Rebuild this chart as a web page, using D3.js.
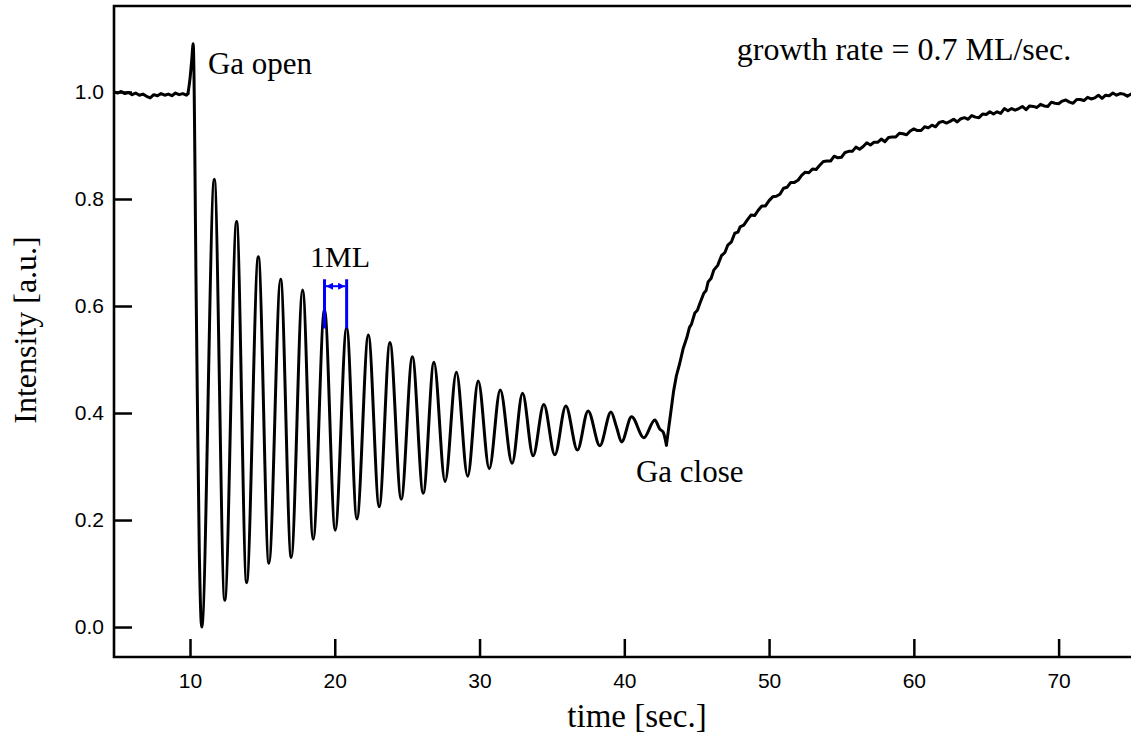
<!DOCTYPE html>
<html>
<head>
<meta charset="utf-8">
<script src="https://cdn.jsdelivr.net/npm/d3@7"></script>
<style>
  html, body { margin: 0; padding: 0; background: #fff; }
  svg { display: block; }
  .tick text { font-family: "Liberation Sans", Arial, sans-serif; font-size: 21px; fill: #000; }
  .serif { font-family: "Liberation Serif", "Times New Roman", serif; fill: #000; }
</style>
</head>
<body>
<svg id="chart" width="1131" height="738"></svg>
<script>
// RHEED specular intensity during GaAs growth (shutter open -> oscillations -> recovery)

// Before the Ga shutter opens
const baselineTime = [4.75, 5.00, 5.25, 5.50, 5.75, 6.00, 6.25, 6.50, 6.75, 7.00, 7.25,
  7.50, 7.75, 8.00, 8.25, 8.50, 8.75, 9.00, 9.25, 9.50, 9.75, 9.86];
const baselineIntensity = [1.000, 0.998, 1.001, 0.997, 0.999, 0.995, 0.998, 0.994, 0.996, 0.992, 0.989,
  0.995, 0.993, 0.997, 0.994, 0.996, 0.993, 0.998, 0.995, 0.997, 0.994, 0.997];

// Shutter transient and layer-by-layer oscillations
const growthTime = [9.86, 10.00, 10.12, 10.22, 10.43, 10.64, 10.81,
  11.68, 12.40, 13.22, 13.91, 14.72, 15.45, 16.26, 16.99, 17.78, 18.51,
  19.29, 20.03, 20.82, 21.53, 22.32, 23.07, 23.81, 24.59, 25.36, 26.11,
  26.85, 27.62, 28.40, 29.18, 29.91, 30.67, 31.43, 32.25, 32.97, 33.70,
  34.44, 35.20, 35.96, 36.76, 37.50, 38.31, 39.08, 39.46, 39.81, 40.50,
  41.35, 42.11, 42.45, 42.69, 42.91];
const growthIntensity = [0.997, 1.025, 1.060, 1.090, 0.611, 0.144, 0.000,
  0.837, 0.050, 0.758, 0.083, 0.692, 0.119, 0.650, 0.130, 0.630, 0.164,
  0.594, 0.181, 0.560, 0.202, 0.546, 0.225, 0.532, 0.239, 0.505, 0.250,
  0.495, 0.272, 0.476, 0.282, 0.460, 0.296, 0.443, 0.306, 0.437, 0.320,
  0.416, 0.322, 0.413, 0.331, 0.404, 0.339, 0.402, 0.374, 0.346, 0.393,
  0.354, 0.387, 0.370, 0.364, 0.340];

// After the Ga shutter closes
const recoveryTime = [42.91, 43.14, 43.40, 43.60, 43.83, 44.06, 44.32, 44.50, 44.64, 44.87,
  45.05, 45.21, 45.49, 45.65, 45.79, 46.00, 46.18, 46.45, 46.71, 46.95,
  47.15, 47.40, 47.63, 47.85,
  48.00, 48.25, 48.50, 48.75, 49.00, 49.25, 49.50, 49.75, 50.00, 50.25,
  50.50, 50.75, 51.00, 51.25, 51.50, 51.75, 52.00, 52.25, 52.50, 52.75,
  53.00, 53.25, 53.50, 53.75, 54.00, 54.25, 54.50, 54.75, 55.00, 55.25,
  55.50, 55.75, 56.00, 56.25, 56.50, 56.75, 57.00, 57.25, 57.50, 57.75,
  58.00, 58.25, 58.50, 58.75, 59.00, 59.25, 59.50, 59.75, 60.00, 60.25,
  60.50, 60.75, 61.00, 61.25, 61.50, 61.75, 62.00, 62.25, 62.50, 62.75,
  63.00, 63.25, 63.50, 63.75, 64.00, 64.25, 64.50, 64.75, 65.00, 65.25,
  65.50, 65.75, 66.00, 66.25, 66.50, 66.75, 67.00, 67.25, 67.50, 67.75,
  68.00, 68.25, 68.50, 68.75, 69.00, 69.25, 69.50, 69.75, 70.00, 70.25,
  70.50, 70.75, 71.00, 71.25, 71.50, 71.75, 72.00, 72.25, 72.50, 72.75,
  73.00, 73.25, 73.50, 73.75, 74.00, 74.25, 74.50, 74.75, 75.00];
const recoveryIntensity = [0.340, 0.387, 0.440, 0.470, 0.493, 0.520, 0.541, 0.560, 0.566, 0.587,
  0.592, 0.604, 0.624, 0.629, 0.645, 0.652, 0.667, 0.676, 0.694, 0.700,
  0.714, 0.720, 0.736, 0.738,
  0.748, 0.751, 0.761, 0.770, 0.769, 0.779, 0.787, 0.787, 0.797, 0.804,
  0.805, 0.809, 0.820, 0.822, 0.831, 0.831, 0.835, 0.844, 0.850, 0.849,
  0.856, 0.855, 0.863, 0.870, 0.871, 0.871, 0.880, 0.877, 0.878, 0.887,
  0.889, 0.889, 0.897, 0.893, 0.898, 0.905, 0.901, 0.906, 0.906, 0.912,
  0.907, 0.915, 0.916, 0.916, 0.923, 0.922, 0.920, 0.927, 0.931, 0.928,
  0.928, 0.935, 0.933, 0.938, 0.935, 0.943, 0.945, 0.942, 0.945, 0.949,
  0.944, 0.950, 0.952, 0.949, 0.956, 0.953, 0.952, 0.959, 0.958, 0.963,
  0.959, 0.963, 0.960, 0.969, 0.965, 0.969, 0.966, 0.969, 0.973, 0.967,
  0.974, 0.973, 0.971, 0.977, 0.974, 0.973, 0.981, 0.979, 0.978, 0.983,
  0.985, 0.981, 0.979, 0.986, 0.986, 0.984, 0.990, 0.987, 0.989, 0.994,
  0.988, 0.994, 0.993, 0.998, 0.994, 0.997, 0.996, 0.992, 0.996];

const xTickValues = [10, 20, 30, 40, 50, 60, 70];
const yTickValues = [0.0, 0.2, 0.4, 0.6, 0.8, 1.0];

// One monolayer period, marked between two neighbouring maxima
const monolayerStart = 19.29;
const monolayerEnd = 20.82;
const monolayerTop = 0.650;
const monolayerBottom = 0.558;
const monolayerArrow = 0.637;

(function draw() {
  const svg = d3.select("#chart");
  const plotLeft = 114, plotRight = 1131, plotTop = 6, plotBottom = 657;

  const x = d3.scaleLinear().domain([4.75, 75]).range([plotLeft, plotRight]);
  const y = d3.scaleLinear().domain([-0.056, 1.1607]).range([plotBottom, plotTop]);

  const zip = (ts, vs) => ts.map((t, i) => ({ t, v: vs[i] }));

  const defs = svg.append("defs");
  defs.append("clipPath").attr("id", "plotclip")
    .append("rect").attr("x", plotLeft).attr("y", plotTop)
    .attr("width", plotRight - plotLeft + 5).attr("height", plotBottom - plotTop);

  const plot = svg.append("g").attr("clip-path", "url(#plotclip)");
  const noisyLine = d3.line().x(d => x(d.t)).y(d => y(d.v)).curve(d3.curveLinear);
  const smoothLine = d3.line().x(d => x(d.t)).y(d => y(d.v)).curve(d3.curveMonotoneX);

  [[zip(baselineTime, baselineIntensity), noisyLine],
   [zip(growthTime, growthIntensity), smoothLine],
   [zip(recoveryTime, recoveryIntensity), noisyLine]].forEach(([data, gen]) => {
    plot.append("path")
      .datum(data)
      .attr("fill", "none")
      .attr("stroke", "#000")
      .attr("stroke-width", 3)
      .attr("stroke-linejoin", "round")
      .attr("stroke-linecap", "round")
      .attr("d", gen);
  });

  // Axes with inward ticks
  const xAxis = d3.axisBottom(x).tickValues(xTickValues).tickFormat(d3.format("d"))
    .tickSizeInner(-18).tickSizeOuter(0).tickPadding(16);
  const gx = svg.append("g").attr("transform", `translate(0,${plotBottom})`).call(xAxis);
  gx.select(".domain").remove();
  gx.selectAll(".tick line").attr("stroke", "#000").attr("stroke-width", 2.5);

  const yAxis = d3.axisLeft(y).tickValues(yTickValues).tickFormat(d3.format(".1f"))
    .tickSizeInner(-18).tickSizeOuter(0).tickPadding(10);
  const gy = svg.append("g").attr("transform", `translate(${plotLeft},0)`).call(yAxis);
  gy.select(".domain").remove();
  gy.selectAll(".tick line").attr("stroke", "#000").attr("stroke-width", 2.5);

  // Frame
  svg.append("path")
    .attr("d", `M${plotRight + 5},${plotTop}H${plotLeft}V${plotBottom}H${plotRight + 5}`)
    .attr("fill", "none").attr("stroke", "#000").attr("stroke-width", 2.6);

  // Axis titles
  svg.append("text").attr("class", "serif")
    .attr("x", 637).attr("y", 727).attr("text-anchor", "middle")
    .attr("font-size", 33).text("time [sec.]");
  svg.append("text").attr("class", "serif")
    .attr("transform", "translate(36,330) rotate(-90)").attr("text-anchor", "middle")
    .attr("font-size", 32).text("Intensity [a.u.]");

  // Annotations
  svg.append("text").attr("class", "serif")
    .attr("x", x(11.24)).attr("y", y(1.034)).attr("font-size", 31).text("Ga open");
  svg.append("text").attr("class", "serif")
    .attr("x", x(40.8)).attr("y", y(0.271)).attr("font-size", 31).text("Ga close");
  svg.append("text").attr("class", "serif")
    .attr("x", x(47.77)).attr("y", y(1.06)).attr("font-size", 32).text("growth rate = 0.7 ML/sec.");
  svg.append("text").attr("class", "serif")
    .attr("x", x(20.36)).attr("y", y(0.673)).attr("text-anchor", "middle")
    .attr("font-size", 30).text("1ML");

  // Monolayer period marker
  const blue = "#0000ff";
  ["start", "end"].forEach(k => {
    defs.append("marker").attr("id", "arrow-" + k)
      .attr("viewBox", "0 0 10 10").attr("refX", 10).attr("refY", 5)
      .attr("markerWidth", 7).attr("markerHeight", 7)
      .attr("markerUnits", "userSpaceOnUse")
      .attr("orient", k === "start" ? "auto-start-reverse" : "auto")
      .append("path").attr("d", "M0,0L10,5L0,10z").attr("fill", blue);
  });
  [monolayerStart, monolayerEnd].forEach(t => {
    svg.append("line")
      .attr("x1", x(t)).attr("x2", x(t))
      .attr("y1", y(monolayerTop)).attr("y2", y(monolayerBottom))
      .attr("stroke", blue).attr("stroke-width", 3);
  });
  svg.append("line")
    .attr("x1", x(monolayerStart) + 1.5).attr("x2", x(monolayerEnd) - 1.5)
    .attr("y1", y(monolayerArrow)).attr("y2", y(monolayerArrow))
    .attr("stroke", blue).attr("stroke-width", 2)
    .attr("marker-start", "url(#arrow-start)").attr("marker-end", "url(#arrow-end)");
})();
</script>
</body>
</html>
